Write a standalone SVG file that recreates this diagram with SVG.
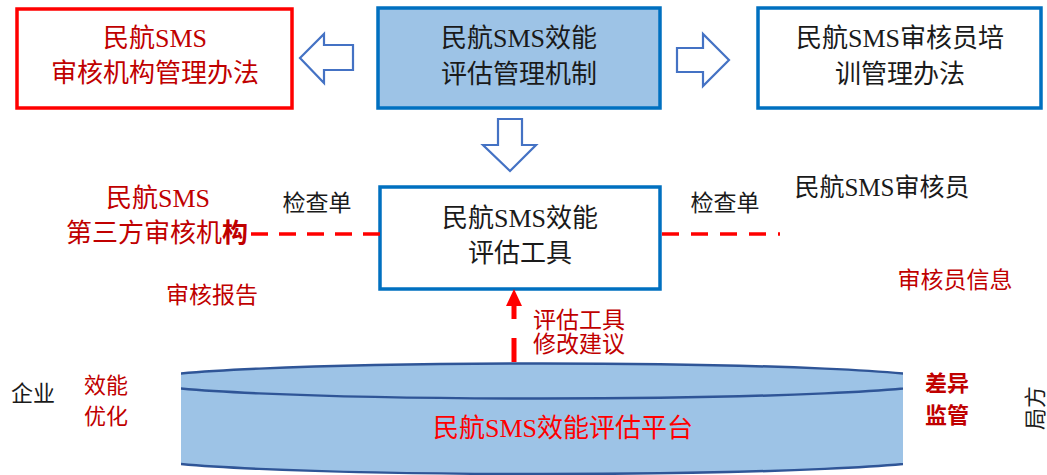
<svg xmlns="http://www.w3.org/2000/svg" width="1047" height="475" viewBox="0 0 1047 475">
<style>
text{font-family:"Liberation Serif","Noto Sans CJK SC",serif;text-anchor:middle;dominant-baseline:central}
.t26{font-size:26px}
.t23{font-size:23px}
.blk{fill:#1a1a1a}
.dred{fill:#C00000}
.box{fill:#fff;stroke:#0070C0;stroke-width:3.5}
.barrow{fill:#fff;stroke:#4472C4;stroke-width:2.2;stroke-linejoin:miter}
.dash{stroke:#FF0000;stroke-width:3.5;fill:none}
</style>
<defs>
<clipPath id="cyl"><rect x="181" y="340" width="722" height="135"/></clipPath>
</defs>
<g id="node-audit-org-rules">
<rect x="17" y="9" width="275" height="99" fill="#fff" stroke="#FF0000" stroke-width="3.5"/>
<text class="t26 dred" x="155" y="38">民航SMS</text>
<text class="t26 dred" x="155" y="73">审核机构管理办法</text>
</g>
<g id="node-mechanism">
<rect x="378" y="8" width="282" height="100" fill="#9DC3E6" stroke="#0070C0" stroke-width="3.5"/>
<text class="t26 blk" x="519" y="38">民航SMS效能</text>
<text class="t26 blk" x="519" y="74">评估管理机制</text>
</g>
<g id="node-auditor-training">
<rect x="758" y="8" width="283" height="100" class="box"/>
<text class="t26 blk" x="900" y="38">民航SMS审核员培</text>
<text class="t26 blk" x="900" y="74">训管理办法</text>
</g>
<g id="node-tool">
<rect x="380" y="187" width="280" height="102" class="box"/>
<text class="t26 blk" x="520" y="218">民航SMS效能</text>
<text class="t26 blk" x="520" y="253">评估工具</text>
</g>
<g id="node-third-party">
<text class="t26 dred" x="158" y="198">民航SMS</text>
<text class="t26 dred" x="157" y="233">第三方审核机<tspan font-weight="bold">构</tspan></text>
</g>
<g id="node-auditor">
<text class="blk" x="882" y="187" font-size="25px">民航SMS审核员</text>
</g>
<g id="node-platform">
<g clip-path="url(#cyl)">
<path d="M142,381 A400,17.5 0 0 1 942,381 L942,456.5 A400,17.5 0 0 1 142,456.5 Z" fill="#9DC3E6"/>
<ellipse cx="542" cy="381" rx="400" ry="17.5" fill="none" stroke="#2F5597" stroke-width="2.5"/>
<path d="M142,456.5 A400,17.5 0 0 0 942,456.5" fill="none" stroke="#2F5597" stroke-width="2.5"/>
</g>
<text class="t26" x="563" y="428" fill="#FF0000">民航SMS效能评估平台</text>
</g>
<g id="labels">
<text class="t23 blk" x="317" y="203">检查单</text>
<text class="t23 blk" x="725" y="203">检查单</text>
<text class="t23 dred" x="212" y="295">审核报告</text>
<text class="t23 dred" x="955" y="280">审核员信息</text>
<text class="t23 dred" x="579" y="320">评估工具</text>
<text class="t23 dred" x="579" y="344">修改建议</text>
<text class="blk" x="33" y="393" font-size="22px">企业</text>
<text class="dred" x="106" y="385" font-size="22px">效能</text>
<text class="dred" x="106" y="416" font-size="22px">优化</text>
<text class="dred" x="947" y="383" font-size="22px" font-weight="bold">差异</text>
<text class="dred" x="947" y="415" font-size="22px" font-weight="bold">监管</text>
<text class="blk" x="0" y="0" font-size="22px" transform="translate(1035,408) rotate(-90)">局方</text>
</g>
<g id="connectors">
<polygon class="barrow" points="300,58 324,34 324,45 353,45 353,70 324,70 324,83"/>
<polygon class="barrow" points="729,60 703,34 703,48 677,48 677,72 703,72 703,86"/>
<polygon class="barrow" points="510,171 483,145 498,145 498,119 522,119 522,145 536,145"/>
<line class="dash" x1="251" y1="234" x2="380" y2="234" stroke-dasharray="17 11"/>
<line class="dash" x1="662" y1="234" x2="780" y2="234" stroke-dasharray="17 12"/>
<line x1="514" y1="362" x2="514" y2="305" stroke="#FF0000" stroke-width="5" stroke-dasharray="24 19"/>
<polygon points="514,289 506,306 522,306" fill="#FF0000"/>
</g>
</svg>
